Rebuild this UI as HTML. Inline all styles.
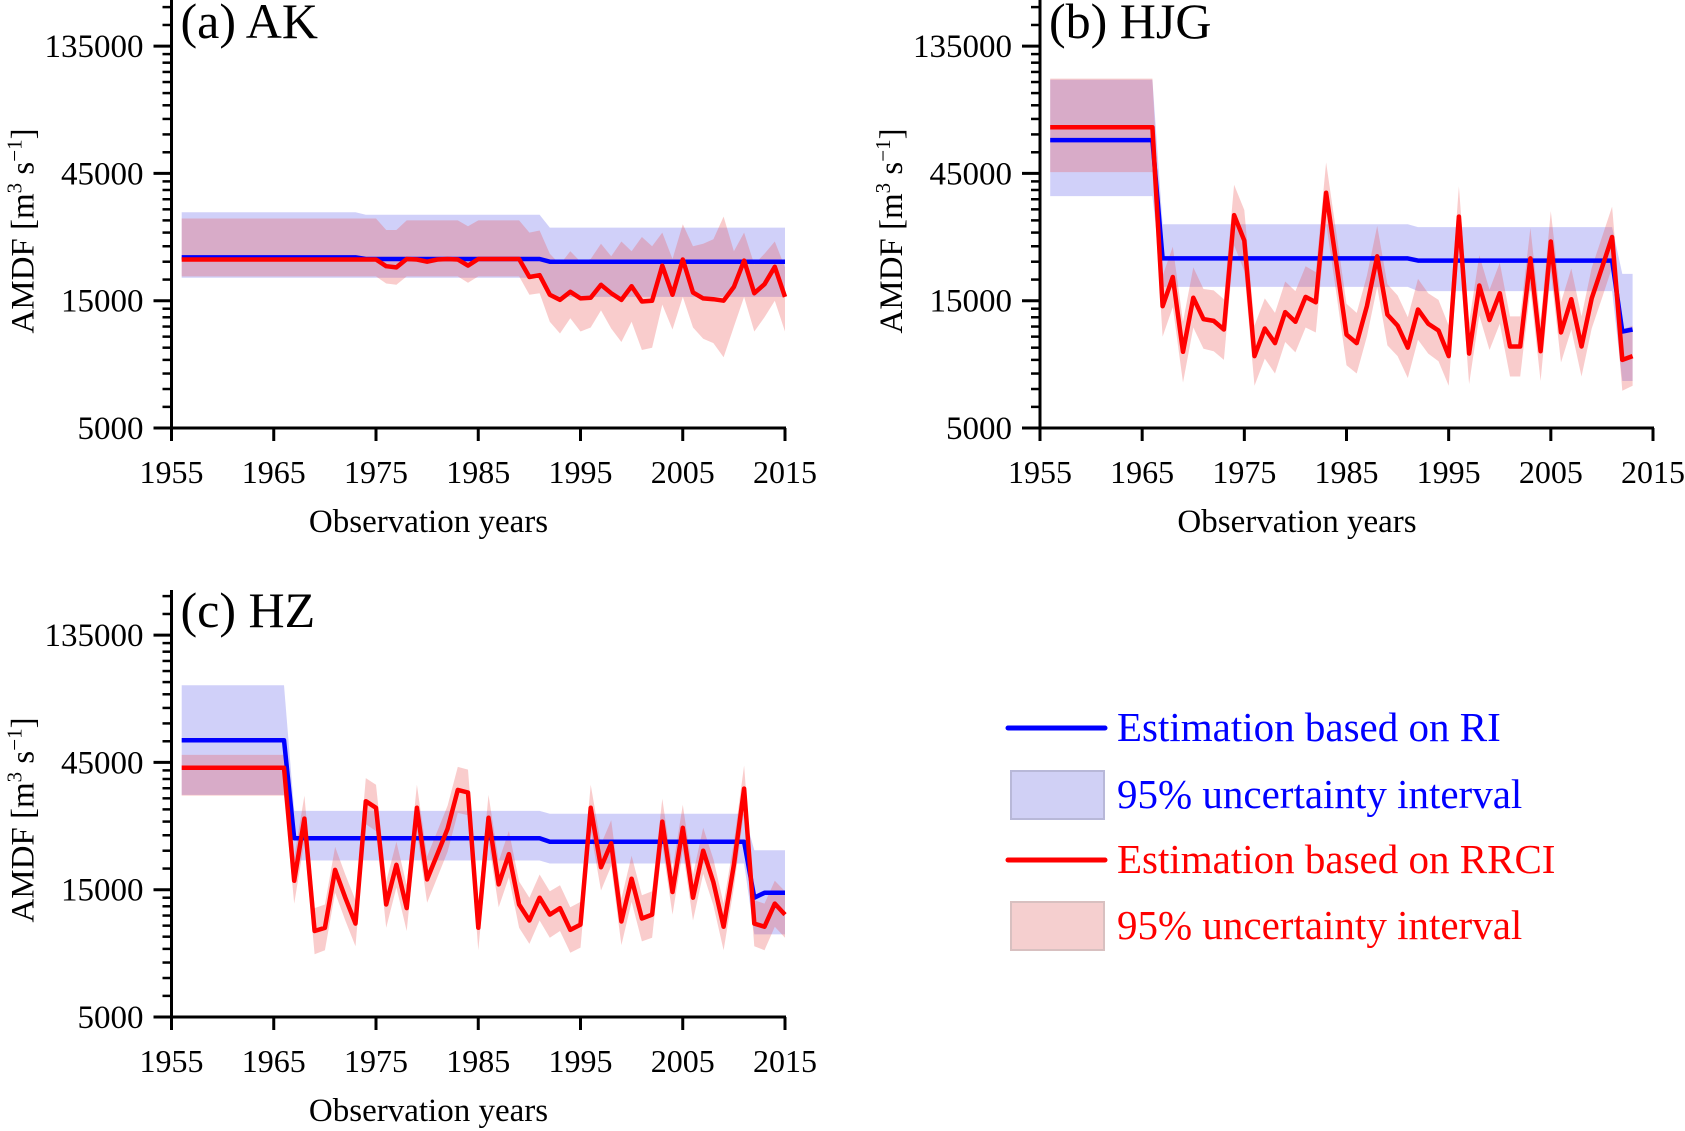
<!DOCTYPE html>
<html><head><meta charset="utf-8"><style>
html,body{margin:0;padding:0;background:#fff;}
svg{display:block;font-family:"Liberation Serif",serif;}
</style></head><body>
<svg id="fig" width="1685" height="1131" viewBox="0 0 1685 1131" xmlns="http://www.w3.org/2000/svg">
<g id="legend">
  <line x1="1008" y1="728" x2="1105" y2="728" stroke="#0000ff" stroke-width="5" stroke-linecap="round"/>
  <text x="1117" y="741" font-size="41" fill="#0000ff">Estimation based on RI</text>
  <rect x="1011" y="771" width="93" height="48" fill="#d0d0f5" stroke="#b8b8d8" stroke-width="2"/>
  <text x="1117" y="808" font-size="41" fill="#0000ff">95% uncertainty  interval</text>
  <line x1="1008" y1="860" x2="1105" y2="860" stroke="#ff0000" stroke-width="5" stroke-linecap="round"/>
  <text x="1117" y="873" font-size="41" fill="#ff0000">Estimation based on RRCI</text>
  <rect x="1011" y="902" width="93" height="48" fill="#f5cfcf" stroke="#d8c0c0" stroke-width="2"/>
  <text x="1117" y="939" font-size="41" fill="#ff0000">95% uncertainty  interval</text>
</g>
</svg>
<script>
// ---- shared axis data ----
const xTickYears = [1955,1965,1975,1985,1995,2005,2015];
const yTickValues = [5000,15000,45000,135000];
const yMinorValues = [6000,7000,8000,9000,10000,11000,12000,13000,14000,18000,21000,24000,27000,30000,33000,36000,39000,42000,54000,63000,72000,81000,90000,99000,108000,117000,126000,162000,189000];

// ---- panel (a) AK : 1956-2015 ----
const aStart = 1956;
const aBlue = [21800,21800,21800,21800,21800,21800,21800,21800,21800,21800,21800,21800,21800,21800,21800,21800,21800,21800,21500,21500,21500,21500,21500,21500,21500,21500,21500,21500,21500,21500,21500,21500,21500,21500,21500,21500,21000,21000,21000,21000,21000,21000,21000,21000,21000,21000,21000,21000,21000,21000,21000,21000,21000,21000,21000,21000,21000,21000,21000,21000];
const aBlueHi = [32200,32200,32200,32200,32200,32200,32200,32200,32200,32200,32200,32200,32200,32200,32200,32200,32200,32200,31500,31500,31500,31500,31500,31500,31500,31500,31500,31500,31500,31500,31500,31500,31500,31500,31500,31500,28200,28200,28200,28200,28200,28200,28200,28200,28200,28200,28200,28200,28200,28200,28200,28200,28200,28200,28200,28200,28200,28200,28200,28200];
const aBlueLo = [18300,18300,18300,18300,18300,18300,18300,18300,18300,18300,18300,18300,18300,18300,18300,18300,18300,18300,18300,18300,18300,18300,18300,18300,18300,18300,18300,18300,18300,18300,18300,18300,18300,18300,18300,18300,15500,15500,15500,15500,15500,15500,15500,15500,15500,15500,15500,15500,15500,15500,15500,15500,15500,15500,15500,15500,15500,15500,15500,15500];
const aRed = [21400,21400,21400,21400,21400,21400,21400,21400,21400,21400,21400,21400,21400,21400,21400,21400,21400,21400,21400,21400,20200,20000,21500,21400,21000,21400,21500,21400,20300,21500,21500,21500,21500,21500,18400,18700,15800,15100,16200,15300,15400,17200,16000,15100,17000,14900,15000,20300,15800,21400,16100,15300,15200,15000,16900,21200,16000,17300,20100,15500];
const aRedHi = [30500,30500,30500,30500,30500,30500,30500,30500,30500,30500,30500,30500,30500,30500,30500,30500,30500,30500,30500,30500,27600,27600,30000,30000,30000,30000,30000,30000,28500,30000,30000,30000,30000,30000,27000,27500,22500,20500,23000,21000,21500,24500,22000,25000,23000,26000,24000,27000,21500,29000,24000,24500,25500,31000,23000,27000,20500,22500,25000,20000];
const aRedLo = [18500,18500,18500,18500,18500,18500,18500,18500,18500,18500,18500,18500,18500,18500,18500,18500,18500,18500,18500,18500,17400,17200,18500,18500,18500,18500,18500,18500,17500,18500,18500,18500,18500,18500,15800,16000,12500,11300,12900,11500,11900,13800,11800,10500,12500,9800,10000,14500,11700,15500,11900,10800,10400,9200,12000,15500,11500,13000,15000,11500];

// ---- panel (b) HJG : 1956-2013 ----
const bStart = 1956;
const bBlue = [60000,60000,60000,60000,60000,60000,60000,60000,60000,60000,60000,21600,21600,21600,21600,21600,21600,21600,21600,21600,21600,21600,21600,21600,21600,21600,21600,21600,21600,21600,21600,21600,21600,21600,21600,21600,21200,21200,21200,21200,21200,21200,21200,21200,21200,21200,21200,21200,21200,21200,21200,21200,21200,21200,21200,21200,11500,11700];
const bBlueHi = [101000,101000,101000,101000,101000,101000,101000,101000,101000,101000,101000,29000,29000,29000,29000,29000,29000,29000,29000,29000,29000,29000,29000,29000,29000,29000,29000,29000,29000,29000,29000,29000,29000,29000,29000,29000,28300,28300,28300,28300,28300,28300,28300,28300,28300,28300,28300,28300,28300,28300,28300,28300,28300,28300,28300,28300,18900,18900];
const bBlueLo = [37000,37000,37000,37000,37000,37000,37000,37000,37000,37000,37000,16900,16900,16900,16900,16900,16900,16900,16900,16900,16900,16900,16900,16900,16900,16900,16900,16900,16900,16900,16900,16900,16900,16900,16900,16900,16300,16300,16300,16300,16300,16300,16300,16300,16300,16300,16300,16300,16300,16300,16300,16300,16300,16300,16300,16300,7500,7500];
const bRed = [67000,67000,67000,67000,67000,67000,67000,67000,67000,67000,67000,14300,18400,9650,15400,12800,12600,11700,31400,25200,9300,11800,10400,13600,12500,15500,14800,38100,20800,11200,10400,14300,22000,13300,12100,10000,13900,12300,11600,9300,31000,9500,17100,12700,16000,10100,10100,21600,9700,25000,11400,15200,10100,15300,19900,26000,9000,9300];
const bRedHi = [102000,102000,102000,102000,102000,102000,102000,102000,102000,102000,102000,18600,23900,12500,20000,16600,16400,15200,40800,32800,12100,15300,13500,17700,16300,20200,19200,49500,27000,14600,13500,18600,28600,17300,15700,13000,18100,16000,15100,12100,40300,12400,22200,16500,20800,13100,13100,28100,12600,32500,14800,19800,13100,19900,25900,33800,11700,12100];
const bRedLo = [45500,45500,45500,45500,45500,45500,45500,45500,45500,45500,45500,11000,14200,7400,11900,9900,9700,9000,24200,19400,7200,9100,8000,10500,9600,11900,11400,29300,16000,8600,8000,11000,16900,10200,9300,7700,10700,9500,8900,7200,23900,7300,13200,9800,12300,7800,7800,16600,7500,19300,8800,11700,7800,11800,15300,20000,6900,7200];

// ---- panel (c) HZ : 1956-2015 ----
const cStart = 1956;
const cBlue = [54500,54500,54500,54500,54500,54500,54500,54500,54500,54500,54500,23400,23400,23400,23400,23400,23400,23400,23400,23400,23400,23400,23400,23400,23400,23400,23400,23400,23400,23400,23400,23400,23400,23400,23400,23400,22700,22700,22700,22700,22700,22700,22700,22700,22700,22700,22700,22700,22700,22700,22700,22700,22700,22700,22700,22700,14000,14600,14600,14600];
const cBlueHi = [87500,87500,87500,87500,87500,87500,87500,87500,87500,87500,87500,29600,29600,29600,29600,29600,29600,29600,29600,29600,29600,29600,29600,29600,29600,29600,29600,29600,29600,29600,29600,29600,29600,29600,29600,29600,28900,28900,28900,28900,28900,28900,28900,28900,28900,28900,28900,28900,28900,28900,28900,28900,28900,28900,28900,28900,21100,21100,21100,21100];
const cBlueLo = [34000,34000,34000,34000,34000,34000,34000,34000,34000,34000,34000,19300,19300,19300,19300,19300,19300,19300,19300,19300,19300,19300,19300,19300,19300,19300,19300,19300,19300,19300,19300,19300,19300,19300,19300,19300,18800,18800,18800,18800,18800,18800,18800,18800,18800,18800,18800,18800,18800,18800,18800,18800,18800,18800,18800,18800,10200,10200,10200,10200];
const cRed = [43000,43000,43000,43000,43000,43000,43000,43000,43000,43000,43000,16200,27700,10500,10800,17800,14000,11200,32200,30400,13200,18600,12800,30400,16400,20400,25400,35500,34700,10800,27900,15700,20400,13200,11500,14000,12100,12800,10600,11100,30400,18200,22400,11400,16500,11700,12100,27000,14700,25600,14000,21000,16000,10900,18600,35900,11200,10900,13300,12100];
const cRedHi = [48000,48000,48000,48000,48000,48000,48000,48000,48000,48000,48000,19800,33800,12800,13200,21700,17100,13700,39300,37100,16100,22700,15600,37100,20000,24900,31000,43300,42300,13200,34000,19200,24900,16100,14000,17100,14800,15600,12900,13500,37100,22200,27300,13900,20100,14300,14800,32900,17900,31200,17100,25600,19500,13300,22700,43800,13700,13300,16200,14800];
const cRedLo = [33800,33800,33800,33800,33800,33800,33800,33800,33800,33800,33800,13300,22700,8600,8900,14600,11500,9200,26400,24900,10800,15300,10500,24900,13400,16700,20800,29100,28500,8900,22900,12900,16700,10800,9400,11500,9900,10500,8700,9100,24900,14900,18400,9300,13500,9600,9900,22100,12100,21000,11500,17200,13100,8900,15300,29400,9200,8900,10900,9900];

const NS = "http://www.w3.org/2000/svg";
const svg = document.getElementById('fig');
function mk(tag, attrs, parent){
  const e = document.createElementNS(NS, tag);
  for (const k in attrs) e.setAttribute(k, attrs[k]);
  (parent || svg).appendChild(e);
  return e;
}

function drawPanel(cfg){
  const g = mk('g', {});
  
  
  const x = yr => cfg.x0 + (yr - 1955) / 60 * (cfg.x1 - cfg.x0);
  const y = v => cfg.yb - Math.log(v / 5000) / Math.log(3) * 127.3;
  const bandPath = (start, hi, lo) => {
    let d = '';
    hi.forEach((v, i) => { d += (i ? 'L' : 'M') + x(start + i).toFixed(1) + ',' + y(v).toFixed(1); });
    for (let i = lo.length - 1; i >= 0; i--) d += 'L' + x(start + i).toFixed(1) + ',' + y(lo[i]).toFixed(1);
    return d + 'Z';
  };
  const linePath = (start, arr) => arr.map((v, i) => (i ? 'L' : 'M') + x(start + i).toFixed(1) + ',' + y(v).toFixed(1)).join('');

  const bb = mk('path', {d: bandPath(cfg.start, cfg.blueHi, cfg.blueLo), fill: 'rgba(110,110,235,0.32)', stroke: 'none'}, g);
  
  
  const rb = mk('path', {d: bandPath(cfg.start, cfg.redHi, cfg.redLo), fill: 'rgba(235,85,85,0.30)', stroke: 'none'}, g);
  
  
  const bl = mk('path', {d: linePath(cfg.start, cfg.blue), fill: 'none', stroke: '#0000ff', 'stroke-width': 4.5, 'stroke-linejoin': 'round'}, g);
  
  
  const rl = mk('path', {d: linePath(cfg.start, cfg.red), fill: 'none', stroke: '#ff0000', 'stroke-width': 4.5, 'stroke-linejoin': 'round'}, g);
  
  

  const ya = mk('line', {x1: cfg.x0, y1: cfg.ytop, x2: cfg.x0, y2: cfg.yb + 1, stroke: '#000', 'stroke-width': 3}, g);
  
  
  const xa = mk('line', {x1: cfg.x0 - 1, y1: cfg.yb, x2: cfg.x1 + 1, y2: cfg.yb, stroke: '#000', 'stroke-width': 3}, g);
  
  

  yMinorValues.forEach(v => {
    const yy = y(v);
    if (yy < cfg.ytop + 2) return;
    const t = mk('line', {x1: cfg.x0 - 9, y1: yy, x2: cfg.x0, y2: yy, stroke: '#000', 'stroke-width': 2.5}, g);
    
    
  });
  yTickValues.forEach(v => {
    const yy = y(v);
    const t = mk('line', {x1: cfg.x0 - 18, y1: yy, x2: cfg.x0, y2: yy, stroke: '#000', 'stroke-width': 3}, g);
    
    
    const l = mk('text', {x: cfg.x0 - 28, y: yy + 11, 'font-size': 33, 'text-anchor': 'end', fill: '#000'}, g);
    l.textContent = String(v);
    
    
  });
  xTickYears.forEach(yr => {
    const xx = x(yr);
    const t = mk('line', {x1: xx, y1: cfg.yb, x2: xx, y2: cfg.yb + 13, stroke: '#000', 'stroke-width': 3}, g);
    
    
    const l = mk('text', {x: xx, y: cfg.yb + 55, 'font-size': 32, 'text-anchor': 'middle', fill: '#000'}, g);
    l.textContent = String(yr);
    
    
  });

  const xt = mk('text', {x: cfg.x0 + 257, y: cfg.yb + 104, 'font-size': 33, 'text-anchor': 'middle', fill: '#000'}, g);
  xt.textContent = 'Observation years';
  
  

  const yt = mk('text', {x: 0, y: 0, 'font-size': 33, 'text-anchor': 'middle', fill: '#000', transform: 'translate(' + (cfg.x0 - 138) + ',' + (cfg.yb - 197) + ') rotate(-90)'}, g);
  yt.innerHTML = 'AMDF [m<tspan dy="-12" font-size="21">3</tspan><tspan dy="12"> s</tspan><tspan dy="-12" font-size="21">−1</tspan><tspan dy="12">]</tspan>';
  
  

  const tt = mk('text', {x: cfg.x0 + 9, y: cfg.yb - 390, 'font-size': 50, fill: '#000'}, g);
  tt.textContent = cfg.title;
  
  
}

drawPanel({id: 'ak', title: '(a) AK', x0: 171.5, x1: 785, yb: 428, ytop: 0, start: aStart,
  blue: aBlue, blueHi: aBlueHi, blueLo: aBlueLo, red: aRed, redHi: aRedHi, redLo: aRedLo});
drawPanel({id: 'hjg', title: '(b) HJG', x0: 1040, x1: 1653, yb: 428, ytop: 0, start: bStart,
  blue: bBlue, blueHi: bBlueHi, blueLo: bBlueLo, red: bRed, redHi: bRedHi, redLo: bRedLo});
drawPanel({id: 'hz', title: '(c) HZ', x0: 171.5, x1: 785, yb: 1017, ytop: 590, start: cStart,
  blue: cBlue, blueHi: cBlueHi, blueLo: cBlueLo, red: cRed, redHi: cRedHi, redLo: cRedLo});
</script>
</body></html>
